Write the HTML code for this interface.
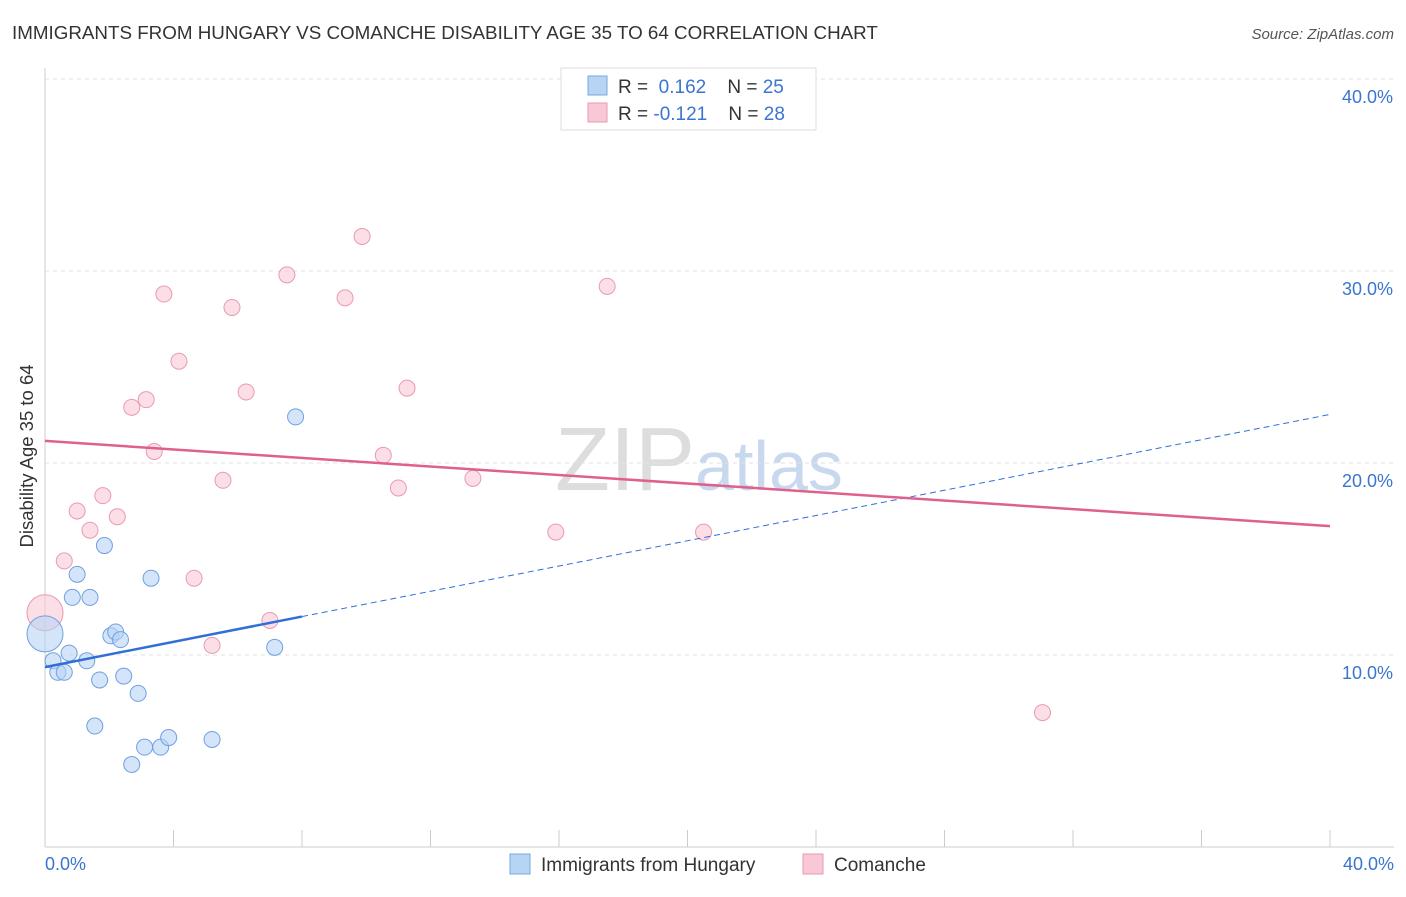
<!DOCTYPE html>
<html><head><meta charset="utf-8"><style>
body{margin:0;background:#fff;font-family:"Liberation Sans",sans-serif}
svg text{font-family:"Liberation Sans",sans-serif}
</style></head><body>
<svg id="chart" width="1406" height="892">
<text x="12" y="39" font-size="18.8" fill="#333">IMMIGRANTS FROM HUNGARY VS COMANCHE DISABILITY AGE 35 TO 64 CORRELATION CHART</text>
<text x="1394" y="39" font-size="15" fill="#555" font-style="italic" text-anchor="end">Source: ZipAtlas.com</text>
<text x="33" y="456" font-size="18.5" fill="#333" text-anchor="middle" transform="rotate(-90 33 456)">Disability Age 35 to 64</text>
<text x="555" y="490" font-size="90" fill="#ddd" font-family="Liberation Serif">ZIP<tspan fill="#c8d8ee" font-family="Liberation Sans" font-size="70">atlas</tspan></text>
<g id="grid"></g><g id="marks"></g>
<g>
<rect x="561" y="68" width="255" height="62" fill="#fff" stroke="#ddd"/>
<rect x="588" y="76" width="19" height="19" fill="#b8d4f5" stroke="#7aa7e0"/>
<text x="618" y="93" font-size="19" fill="#333">R = <tspan fill="#3a75d0">&#160;0.162</tspan>&#160;&#160;&#160;&#160;N = <tspan fill="#3a75d0">25</tspan></text>
<rect x="588" y="103" width="19" height="19" fill="#f9c8d6" stroke="#e99ab2"/>
<text x="618" y="120" font-size="19" fill="#333">R = <tspan fill="#3a75d0">-0.121</tspan>&#160;&#160;&#160;&#160;N = <tspan fill="#3a75d0">28</tspan></text>
</g>
<g>
<rect x="510" y="854" width="20" height="20" fill="#b8d4f5" stroke="#7aa7e0"/>
<text x="541" y="871" font-size="19" fill="#333">Immigrants from Hungary</text>
<rect x="803" y="854" width="20" height="20" fill="#f9c8d6" stroke="#e99ab2"/>
<text x="834" y="871" font-size="19" fill="#333">Comanche</text>
</g>
</svg>
<script>
const hungaryX=[0,0.25,0.4,0.6,0.75,0.85,1.0,1.3,1.4,1.55,1.7,1.85,2.05,2.2,2.35,2.45,2.7,2.9,3.1,3.3,3.6,3.85,5.2,7.15,7.8];
const hungaryY=[11.1,9.7,9.1,9.1,10.1,13.0,14.2,9.7,13.0,6.3,8.7,15.7,11.0,11.2,10.8,8.9,4.3,8.0,5.2,14.0,5.2,5.7,5.6,10.4,22.4];
const comancheX=[0,0.6,1.0,1.4,1.8,2.25,2.7,3.15,3.4,3.7,4.17,4.64,5.2,5.54,5.82,6.26,7.0,7.53,9.34,9.87,10.53,11.0,11.27,13.32,15.9,17.5,20.5,31.05];
const comancheY=[12.2,14.9,17.5,16.5,18.3,17.2,22.9,23.3,20.6,28.8,25.3,14.0,10.5,19.1,28.1,23.7,11.8,29.8,28.6,31.8,20.4,18.7,23.9,19.2,16.4,29.2,16.4,7.0];
const yTicks=[10,20,30,40];
const xTickLabels=["0.0%","40.0%"];
const hungaryTrend=[9.37,0.329];
const comancheTrend=[21.15,-0.111];
const big=[0];
const sx=v=>45+v/40*1285, sy=v=>847-v/10*192;
const NS="http://www.w3.org/2000/svg";
function mk(t,a,p){const e=document.createElementNS(NS,t);for(const k in a)e.setAttribute(k,a[k]);p.appendChild(e);return e;}
const g=document.getElementById('grid'), m=document.getElementById('marks');
yTicks.forEach(t=>{
 const l=mk('line',{x1:45,x2:1394,y1:sy(t),y2:sy(t),stroke:'#e2e2e2','stroke-dasharray':'4,4'},g);
 
 
 const tx=mk('text',{x:1393,y:sy(t)+24,'font-size':18,fill:'#3a75d0','text-anchor':'end'},g);
 tx.textContent=t.toFixed(1)+'%';
 
 
});
mk('line',{x1:45,x2:45,y1:68,y2:847,stroke:'#ccc'},g);
mk('line',{x1:45,x2:1394,y1:847,y2:847,stroke:'#ccc'},g);
for(let i=0;i<=10;i++){
 const t=mk('line',{x1:sx(i*4),x2:sx(i*4),y1:830,y2:847,stroke:'#ccc'},g);
 
 
}
xTickLabels.forEach((s,i)=>{
 const tx=mk('text',{x:i?1394:45,y:870,'font-size':18,fill:'#3a75d0','text-anchor':i?'end':'start'},g);
 tx.textContent=s;
 
 
});
comancheX.forEach((x,i)=>{
 const c=mk('circle',{cx:sx(x),cy:sy(comancheY[i]),r:big.includes(i)?18:8,fill:'#f9c8d6','fill-opacity':0.6,stroke:'#e99ab2'},m);
 
 
});
hungaryX.forEach((x,i)=>{
 const c=mk('circle',{cx:sx(x),cy:sy(hungaryY[i]),r:big.includes(i)?18:8,fill:'#b8d4f5','fill-opacity':0.6,stroke:'#6fa0e0'},m);
 
 
});
const ht=x=>hungaryTrend[0]+hungaryTrend[1]*x, ct=x=>comancheTrend[0]+comancheTrend[1]*x;
let l=mk('line',{x1:sx(0),y1:sy(ht(0)),x2:sx(8),y2:sy(ht(8)),stroke:'#2f6fd6','stroke-width':2.5},m);


l=mk('line',{x1:sx(8),y1:sy(ht(8)),x2:sx(40),y2:sy(ht(40)),stroke:'#2f6fd6','stroke-width':1,'stroke-dasharray':'6,4'},m);


l=mk('line',{x1:sx(0),y1:sy(ct(0)),x2:sx(40),y2:sy(ct(40)),stroke:'#e0608c','stroke-width':2.5},m);


</script>
</body></html>
